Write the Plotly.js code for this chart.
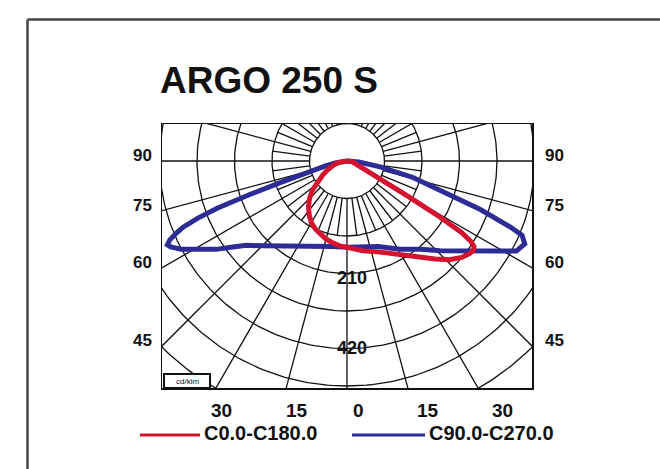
<!DOCTYPE html>
<html><head><meta charset="utf-8">
<script src="https://cdn.plot.ly/plotly-3.0.1.min.js"></script>
<style>html,body{margin:0;padding:0;background:#fff}</style>
</head><body><div id="chart" style="width:660px;height:469px"></div>
<script>
// ---- data: luminous intensity (cd/klm) vs gamma angle (deg); negative angles = left half-plane ----
const redName = 'C0.0-C180.0';
const redAngles = [-90,-85,-80,-75,-70,-65,-60,-55,-50,-45,-40,-35,-30,-25,-20,-15,-10,-5,0,
                   10,20,30,37,42,46,50,53,55,56,57,58,59,60,61,63,66,70,75,80,85,90];
const redValues = [0,7,15,24,34,41,52,67,84,99,112,123,133,140,146,151,155,159,161,
                   170,181,202,226,246,265,280,287,289,286,276,252,196,131,90,60,41,28,19,11,6,0];

const blueName = 'C90.0-C270.0';
const blueAngles = [-90,-85,-80,-77,-74,-72,-71,-70,-69,-68,-67,-66,-65,-64,-62,-59,-56,-53,-50,-45,-37,-30,-20,-10,0,
                    10,20,31,40,46,52,56,60,62,65,67,68,70,72,76,80,85,90];
const blueValues = [0,9,22,41,75,131,192,258,299,330,347,362,370,366,351,321,295,267,245,224,198,183,168,162,161,
                    162,170,192,215,241,271,299,336,358,366,355,329,265,200,127,63,22,0];

// grid: intensity rings (cd/klm) and angular spokes (deg)
const ringValues = [70,140,210,280,350,420,490];
const spokeAngles = [];      for (let a = 0; a < 360; a += 15) spokeAngles.push(a);
const minorSpokeAngles = []; for (let a = 7.5; a < 360; a += 15) minorSpokeAngles.push(a);

// labels
const sideLabels = ['90','75','60','45'];
const bottomLabels = ['30','15','0','15','30'];
const ringLabels = ['210','420'];
const titleText = 'ARGO 250 S';
const unitText = 'cd/klm';

// ---- geometry ----
const W = 660, H = 469;
const M = {l:162, r:128, t:124, b:81};
const pw = W - M.l - M.r, ph = H - M.t - M.b;
const pxPerUnit = 37.5 / 70;
const cx = 347, cy = 161;                  // pole position in px
const xr = [-(cx - M.l) / pxPerUnit, (W - M.r - cx) / pxPerUnit];
const yr = [-(H - M.b - cy) / pxPerUnit, (cy - M.t) / pxPerUnit];
const PX = x => (x - M.l) / pw;
const PY = y => 1 - (y - M.t) / ph;
const rad = d => d * Math.PI / 180;

function polarXY(angles, values) {
  return {x: angles.map((a,i) => values[i] * Math.sin(rad(a))),
          y: angles.map((a,i) => -values[i] * Math.cos(rad(a)))};
}

// grid path
const gx = [], gy = [];
ringValues.forEach(r => {
  for (let a = 0; a <= 360; a += 1) { gx.push(r * Math.sin(rad(a))); gy.push(-r * Math.cos(rad(a))); }
  gx.push(null); gy.push(null);
});
const rIn = ringValues[0], rFar = 2000;
spokeAngles.forEach(a => {
  gx.push(rIn * Math.sin(rad(a)), rFar * Math.sin(rad(a)), null);
  gy.push(-rIn * Math.cos(rad(a)), -rFar * Math.cos(rad(a)), null);
});
minorSpokeAngles.forEach(a => {
  gx.push(rIn * Math.sin(rad(a)), ringValues[1] * Math.sin(rad(a)), null);
  gy.push(-rIn * Math.cos(rad(a)), -ringValues[1] * Math.cos(rad(a)), null);
});

const red = polarXY(redAngles, redValues);
const blue = polarXY(blueAngles, blueValues);
const RED = '#d3132f', BLUE = '#2d2b96';

const traces = [
  {type:'scatter', mode:'lines', x:gx, y:gy, line:{color:'#111', width:1.3}, hoverinfo:'skip', showlegend:false},
  {type:'scatter', mode:'lines', name:blueName, x:blue.x, y:blue.y, line:{color:BLUE, width:5}, showlegend:false},
  {type:'scatter', mode:'lines', name:redName, x:red.x, y:red.y, line:{color:RED, width:5}, showlegend:false}
];

const F = 'Liberation Sans, Arial, sans-serif';
const ann = (text, x, y, size, extra) => Object.assign({
  text, xref:'paper', yref:'paper', x:PX(x), y:PY(y), showarrow:false,
  xanchor:'center', yanchor:'middle', font:{family:F, size, color:'#111', weight:'bold'}
}, extra || {});

const annotations = [];
const sideY = [155, 205, 262, 340];
sideLabels.forEach((t,i) => {
  annotations.push(ann(t, 142, sideY[i], 17));
  annotations.push(ann(t, 554, sideY[i], 17));
});
const bottomX = [221, 297, 358, 428, 502];
bottomLabels.forEach((t,i) => annotations.push(ann(t, bottomX[i], 410, 19)));
const ringY = [278, 348];
ringLabels.forEach((t,i) => annotations.push(ann(t, 352, ringY[i], 18)));
annotations.push(ann(unitText, 187, 381, 8, {font:{family:F, size:8, color:'#111'}}));
// legend texts
annotations.push(ann(redName, 202, 433, 20, {xanchor:'left'}));
annotations.push(ann(blueName, 427, 433, 20, {xanchor:'left'}));

const shapes = [
  // outer border (top & left visible)
  {type:'line', xref:'paper', yref:'paper', x0:PX(27.5), y0:PY(19.5), x1:PX(665), y1:PY(19.5), line:{color:'#444', width:2.5}},
  {type:'line', xref:'paper', yref:'paper', x0:PX(27.5), y0:PY(19.5), x1:PX(27.5), y1:PY(475), line:{color:'#444', width:2.5}},
  // unit box
  {type:'rect', xref:'paper', yref:'paper', x0:PX(164), y0:PY(374), x1:PX(210), y1:PY(388), line:{color:'#111', width:2}, fillcolor:'#fff'},
  // legend line samples
  {type:'line', xref:'paper', yref:'paper', x0:PX(140), y0:PY(435), x1:PX(200), y1:PY(435), line:{color:RED, width:3}},
  {type:'line', xref:'paper', yref:'paper', x0:PX(352), y0:PY(435), x1:PX(425), y1:PY(435), line:{color:BLUE, width:3}}
];

const layout = {
  width:W, height:H, margin:M, paper_bgcolor:'#fff', plot_bgcolor:'#fff',
  title:{text:titleText, xref:'container', yref:'container', x:160/W, xanchor:'left', y:1-80/H, yanchor:'middle',
         font:{family:F, size:37, color:'#111', weight:'bold'}},
  xaxis:{range:xr, showgrid:false, zeroline:false, showticklabels:false, ticks:'', showline:true, mirror:true, linecolor:'#111', linewidth:1.5, fixedrange:true},
  yaxis:{range:yr, showgrid:false, zeroline:false, showticklabels:false, ticks:'', showline:true, mirror:true, linecolor:'#111', linewidth:1.5, fixedrange:true},
  annotations, shapes, showlegend:false
};
Plotly.newPlot('chart', traces, layout, {staticPlot:true, displayModeBar:false});
</script></body></html>
